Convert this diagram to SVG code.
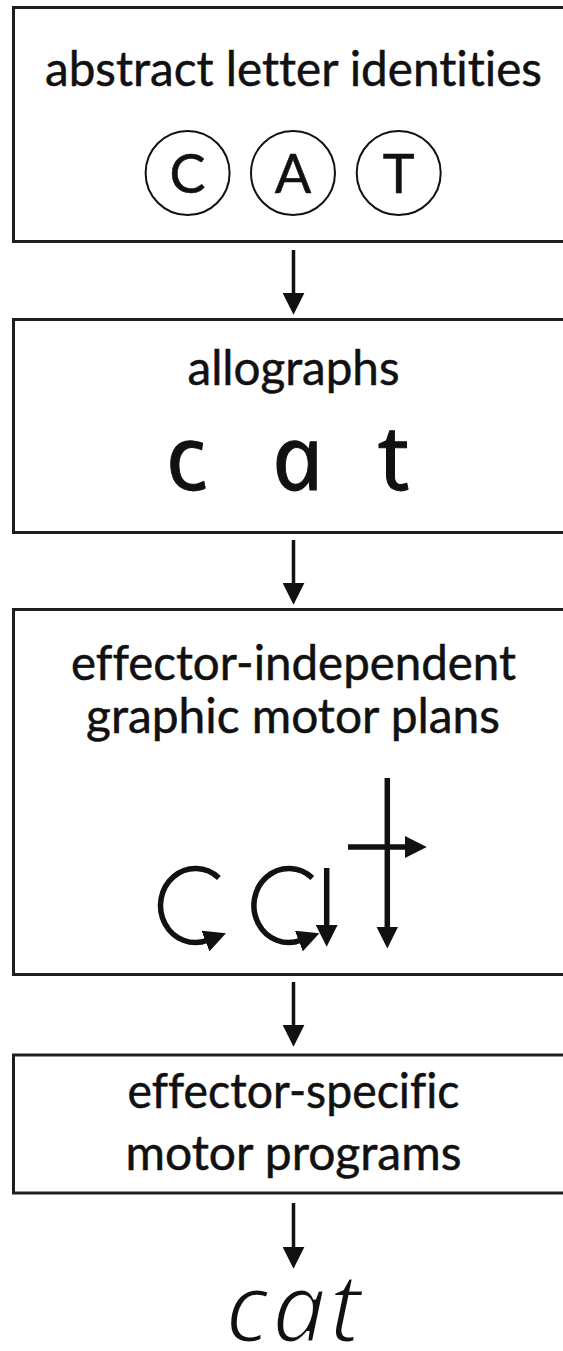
<svg xmlns="http://www.w3.org/2000/svg" width="563" height="1351" viewBox="0 0 563 1351">
<style>
.box{fill:#fff;stroke:#1e1e1e;stroke-width:3}
.lbl{font-family:Lato,"Liberation Sans",sans-serif;font-size:48px;fill:#111;stroke:#111;stroke-width:0.5;text-anchor:middle;font-variant-ligatures:none}
.cap{font-family:Lato,"Liberation Sans",sans-serif;font-size:54px;fill:#111;stroke:#111;stroke-width:0.5;text-anchor:middle}
.ring{fill:none;stroke:#111;stroke-width:2}
.conn{stroke:#111;stroke-width:3.5;fill:none;marker-end:url(#ah)}
.mot{stroke:#111;stroke-width:5.5;fill:none;marker-end:url(#ah)}
.allo{font-family:"Noto Sans","DejaVu Sans",sans-serif;font-style:italic;font-size:90px;fill:#111;stroke:#111;stroke-width:1}
.hand{font-family:"Noto Sans","DejaVu Sans",sans-serif;font-style:italic;font-size:96px;fill:#111;stroke:#fff;stroke-width:3;letter-spacing:3px}
</style>
<defs>
<marker id="ah" markerUnits="userSpaceOnUse" markerWidth="22" markerHeight="22" viewBox="0 0 20 20" refX="2" refY="10" orient="auto">
<path d="M0,0 L20,10 L0,20 z" fill="#111"/>
</marker>
</defs>
<rect x="0" y="0" width="563" height="1351" fill="#fff"/>
<g id="letter-identities">
<rect class="box" x="13.5" y="7.5" width="562" height="234"/>
<text class="lbl" x="293.5" y="86" textLength="497" lengthAdjust="spacingAndGlyphs">abstract letter identities</text>
<circle class="ring" cx="187.6" cy="173" r="42"/>
<circle class="ring" cx="293" cy="173" r="42"/>
<circle class="ring" cx="398.7" cy="173" r="42"/>
<text class="cap" x="187.6" y="192.5">C</text>
<text class="cap" x="293" y="192.5">A</text>
<text class="cap" x="398.7" y="192.5">T</text>
</g>
<g id="allographs">
<rect class="box" x="13.5" y="319.5" width="562" height="213"/>
<text class="lbl" x="293.5" y="385" textLength="212" lengthAdjust="spacingAndGlyphs">allographs</text>
<g transform="translate(0,490) skewX(12)">
<text class="allo" y="0"><tspan x="171">c</tspan> <tspan x="277">a</tspan> <tspan x="384">t</tspan></text>
</g>
</g>
<g id="motor-plans">
<rect class="box" x="13.5" y="609.5" width="562" height="365"/>
<text class="lbl" x="293.5" y="680" textLength="445" lengthAdjust="spacingAndGlyphs">effector-independent</text>
<text class="lbl" x="293" y="733" textLength="414" lengthAdjust="spacingAndGlyphs">graphic motor plans</text>
<path class="mot" d="M218.9,878 A35,37 0 1 0 207.5,940.3"/>
<path class="mot" d="M312.3,878 A35,37 0 1 0 300.9,940.3"/>
<line class="mot" x1="326.7" y1="868" x2="326.7" y2="927"/>
<line class="mot" x1="387.3" y1="778" x2="387.3" y2="928.7"/>
<line class="mot" x1="348" y1="847" x2="407" y2="847"/>
</g>
<g id="motor-programs">
<rect class="box" x="13.5" y="1055" width="562" height="138"/>
<text class="lbl" x="293.5" y="1108" textLength="332" lengthAdjust="spacingAndGlyphs">effector-specific</text>
<text class="lbl" x="293.5" y="1170" textLength="336" lengthAdjust="spacingAndGlyphs">motor programs</text>
</g>
<g id="output">
<text class="hand" x="225" y="1342">cat</text>
</g>
<g id="connectors">
<line class="conn" x1="293.5" y1="250" x2="293.5" y2="295"/>
<line class="conn" x1="293.5" y1="540" x2="293.5" y2="585"/>
<line class="conn" x1="293.5" y1="982" x2="293.5" y2="1027"/>
<line class="conn" x1="293.5" y1="1203" x2="293.5" y2="1249"/>
</g>
</svg>
